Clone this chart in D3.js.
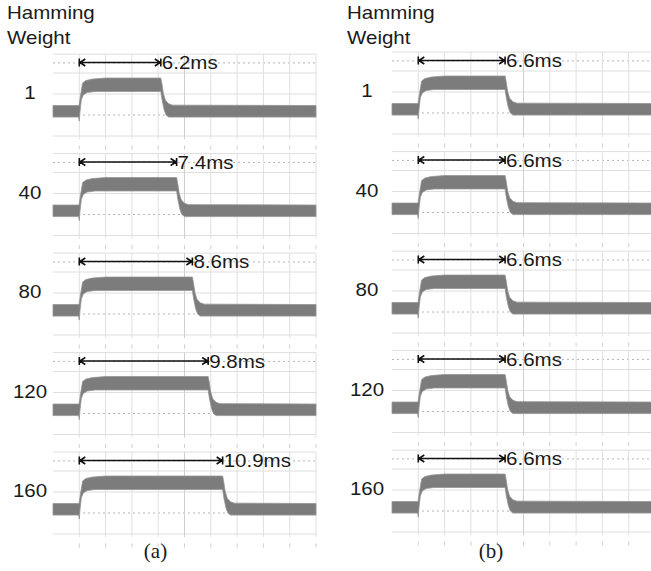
<!DOCTYPE html>
<html>
<head>
<meta charset="utf-8">
<script src="https://cdn.jsdelivr.net/npm/d3@7"></script>
<style>
  body { margin: 0; background: #fff; }
  svg { display: block; }
</style>
</head>
<body>
<svg id="chart" width="651" height="571"></svg>
<script>
// Hamming weight of each trace row
const weights = ["1", "40", "80", "120", "160"];
// Measured pulse widths in ms: (a) grows with weight, (b) stays constant
const widthsA = [6.2, 7.4, 8.6, 9.8, 10.9];
const widthsB = [6.6, 6.6, 6.6, 6.6, 6.6];
const captions = ["(a)", "(b)"];

// Signal levels in screen divisions: [lower edge, upper edge] of the noisy band
const lowBand = [-0.1, 0.45];
const highBand = [1.12, 1.76];
// Edge shapes: [time after edge (ms), level (div)]
const riseUpper = [[-0.02, 0.45], [0.1, 0.95], [0.25, 1.52], [0.5, 1.64], [1.0, 1.71], [2.0, 1.76]];
const riseLower = [[-0.05, -0.1], [0, -0.29], [0.05, 0.14], [0.15, 0.71], [0.3, 0.95], [0.6, 1.07], [1.2, 1.12]];
const fallUpper = [[0, 1.76], [0.08, 1.5], [0.2, 1.0], [0.35, 0.7], [0.6, 0.53], [0.9, 0.47]];
const fallLower = [[0, 1.12], [0.1, 0.7], [0.25, 0.25], [0.4, 0.0], [0.6, -0.1]];

const timeDomain = [-2, 18];      // ms, 2 ms per division
const gridTimes = d3.range(0, 19, 2);
const gridSolid = [2.9, 2, 1, -1];
const gridDotted = [2.48, 0];

const svg = d3.select("#chart");
const SANS = '"Liberation Sans", Arial, sans-serif';
const INK = "#1a1a1a";
const TRACE = "#7c7c7c";

function stretchedText(g, x, y, str, size, anchor) {
  g.append("text")
    .attr("transform", `translate(${x},${y}) scale(1.14,1)`)
    .attr("text-anchor", anchor)
    .style("font-family", SANS)
    .style("font-size", size + "px")
    .attr("fill", INK)
    .text(str);
}

const columns = [
  { widths: widthsA, x0: 53, x1: 316, top0: 54, labelX: 30, labelBase: 99, headX: 7, capX: 155.5 },
  { widths: widthsB, x0: 392, x1: 655, top0: 52, labelX: 367, labelBase: 97, headX: 347, capX: 491 }
];
const rowStep = 99.5;

columns.forEach((col, ci) => {
  const g = svg.append("g");
  const x = d3.scaleLinear().domain(timeDomain).range([col.x0, col.x1]);

  stretchedText(g, col.headX, 19, "Hamming", 18, "start");
  stretchedText(g, col.headX, 44, "Weight", 18, "start");

  col.widths.forEach((w, i) => {
    const top = col.top0 + i * rowStep;
    const y = d3.scaleLinear().domain([0, 1]).range([top + 61, top + 40]);
    const row = g.append("g");

    // graticule
    row.selectAll("line.hs").data(gridSolid).join("line")
      .attr("x1", col.x0).attr("x2", col.x1)
      .attr("y1", d => y(d)).attr("y2", d => y(d))
      .attr("stroke", "#dedede").attr("stroke-width", 1);
    row.selectAll("line.hd").data(gridDotted).join("line")
      .attr("x1", col.x0).attr("x2", col.x1)
      .attr("y1", d => y(d)).attr("y2", d => y(d))
      .attr("stroke", "#b4b4b4").attr("stroke-width", 1)
      .attr("stroke-dasharray", "2,3");
    row.selectAll("line.v").data(gridTimes).join("line")
      .attr("x1", d => x(d)).attr("x2", d => x(d))
      .attr("y1", y(2.9)).attr("y2", y(-1.15))
      .attr("stroke", d => d === 8 ? "#cfcfcf" : "#e0e0e0").attr("stroke-width", 1);
    row.selectAll("line.vt").data(gridTimes).join("line")
      .attr("x1", d => x(d)).attr("x2", d => x(d))
      .attr("y1", y(-1.45)).attr("y2", y(-1.65))
      .attr("stroke", "#d0d0d0").attr("stroke-width", 1);

    // trace envelope
    const upper = [[timeDomain[0], lowBand[1]]]
      .concat(riseUpper)
      .concat(fallUpper.map(p => [w + p[0], p[1]]))
      .concat([[timeDomain[1], lowBand[1]]]);
    const lower = [[timeDomain[0], lowBand[0]]]
      .concat(riseLower)
      .concat(fallLower.map(p => [w + p[0], p[1]]))
      .concat([[timeDomain[1], lowBand[0]]]);
    const poly = upper.concat(lower.slice().reverse());
    row.append("path")
      .attr("d", d3.line().x(d => x(d[0])).y(d => y(d[1]))(poly) + "Z")
      .attr("fill", TRACE)
      .attr("stroke", "#959595").attr("stroke-width", 1).attr("stroke-opacity", 0.8)
      .attr("stroke-linejoin", "round");

    // width marker
    const ay = top + 8.5;
    const xa = x(0), xb = x(w);
    const mk = d3.path();
    mk.moveTo(xa, ay); mk.lineTo(xb, ay);
    mk.moveTo(xa, ay - 4); mk.lineTo(xa, ay + 4);
    mk.moveTo(xa + 6, ay - 3.5); mk.lineTo(xa + 0.5, ay); mk.lineTo(xa + 6, ay + 3.5);
    mk.moveTo(xb, ay - 4); mk.lineTo(xb, ay + 4);
    mk.moveTo(xb - 6, ay - 3.5); mk.lineTo(xb - 0.5, ay); mk.lineTo(xb - 6, ay + 3.5);
    row.append("path").attr("d", mk.toString())
      .attr("fill", "none").attr("stroke", "#111").attr("stroke-width", 1.6);
    stretchedText(row, xb + 1, ay + 6.5, d3.format(".1f")(w) + "ms", 18, "start");

    stretchedText(row, col.labelX, col.labelBase + i * rowStep, weights[i], 18, "middle");
  });

  g.append("text")
    .attr("x", col.capX).attr("y", 558)
    .attr("text-anchor", "middle")
    .style("font-family", '"Liberation Serif", "Times New Roman", serif')
    .style("font-size", "21px")
    .attr("fill", INK)
    .text(captions[ci]);
});
</script>
</body>
</html>
